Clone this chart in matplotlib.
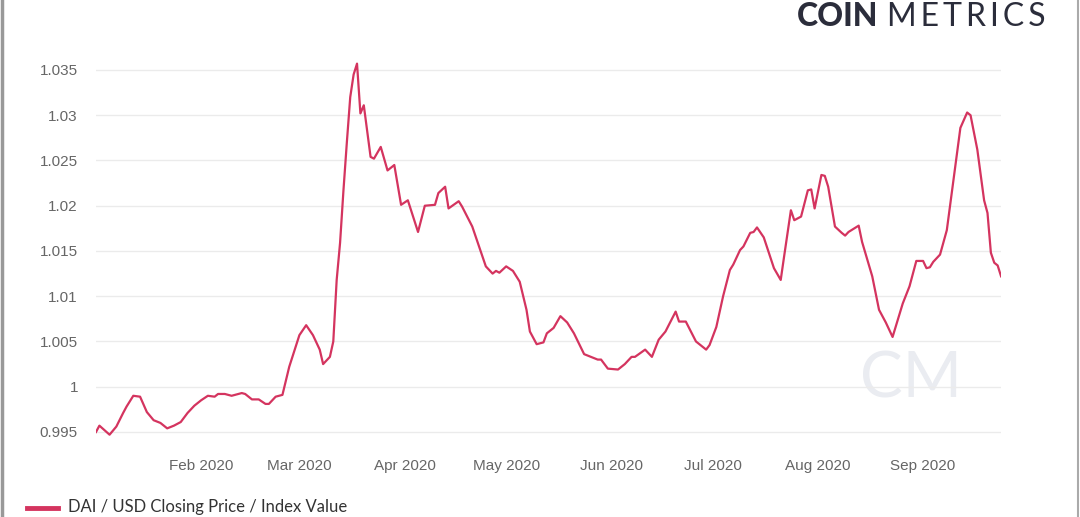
import pandas as pd
import matplotlib.pyplot as plt
import matplotlib.dates as mdates
from matplotlib.lines import Line2D

# DAI / USD closing price
dates = [
    "2020-01-01", "2020-01-02", "2020-01-05", "2020-01-07", "2020-01-09", "2020-01-10",
    "2020-01-12", "2020-01-14", "2020-01-16", "2020-01-18", "2020-01-20", "2020-01-22",
    "2020-01-24", "2020-01-26", "2020-01-28", "2020-01-30", "2020-02-01", "2020-02-03",
    "2020-02-05", "2020-02-06", "2020-02-08", "2020-02-10", "2020-02-11", "2020-02-13",
    "2020-02-14", "2020-02-16", "2020-02-18", "2020-02-20", "2020-02-21", "2020-02-23",
    "2020-02-25", "2020-02-27", "2020-03-01", "2020-03-03", "2020-03-05", "2020-03-07",
    "2020-03-08", "2020-03-10", "2020-03-11", "2020-03-12", "2020-03-13", "2020-03-14",
    "2020-03-15", "2020-03-16", "2020-03-17", "2020-03-18", "2020-03-19", "2020-03-20",
    "2020-03-22", "2020-03-23", "2020-03-25", "2020-03-27", "2020-03-29", "2020-03-31",
    "2020-04-02", "2020-04-05", "2020-04-07", "2020-04-10", "2020-04-11", "2020-04-13",
    "2020-04-14", "2020-04-17", "2020-04-18", "2020-04-21", "2020-04-25", "2020-04-27",
    "2020-04-28", "2020-04-29", "2020-05-01", "2020-05-03", "2020-05-05", "2020-05-07",
    "2020-05-08", "2020-05-10", "2020-05-12", "2020-05-13", "2020-05-15", "2020-05-17",
    "2020-05-19", "2020-05-21", "2020-05-24", "2020-05-28", "2020-05-29", "2020-05-31",
    "2020-06-03", "2020-06-05", "2020-06-07", "2020-06-08", "2020-06-11", "2020-06-13",
    "2020-06-15", "2020-06-17", "2020-06-20", "2020-06-21", "2020-06-23", "2020-06-26",
    "2020-06-29", "2020-06-30", "2020-07-02", "2020-07-04", "2020-07-06", "2020-07-07",
    "2020-07-09", "2020-07-10", "2020-07-12", "2020-07-13", "2020-07-14", "2020-07-16",
    "2020-07-19", "2020-07-21", "2020-07-22", "2020-07-24", "2020-07-25", "2020-07-27",
    "2020-07-29", "2020-07-30", "2020-07-31", "2020-08-02", "2020-08-03", "2020-08-04",
    "2020-08-06", "2020-08-08", "2020-08-09", "2020-08-10", "2020-08-13", "2020-08-14",
    "2020-08-17", "2020-08-19", "2020-08-21", "2020-08-23", "2020-08-26", "2020-08-28",
    "2020-08-30", "2020-09-01", "2020-09-02", "2020-09-03", "2020-09-04", "2020-09-06",
    "2020-09-08", "2020-09-11", "2020-09-12", "2020-09-14", "2020-09-15", "2020-09-17",
    "2020-09-19", "2020-09-20", "2020-09-21", "2020-09-22", "2020-09-23", "2020-09-24",
]
price = [
    0.9950, 0.9957, 0.9947, 0.9956, 0.9971, 0.9978,
    0.9990, 0.9989, 0.9972, 0.9963, 0.9960, 0.9954,
    0.9957, 0.9961, 0.9971, 0.9979, 0.9985, 0.9990,
    0.9989, 0.9992, 0.9992, 0.9990, 0.9991, 0.9993,
    0.9992, 0.9986, 0.9986, 0.9981, 0.9981, 0.9989,
    0.9991, 1.0022, 1.0057, 1.0068, 1.0057, 1.0041,
    1.0025, 1.0033, 1.0050, 1.0118, 1.0159, 1.0217,
    1.0270, 1.0320, 1.0345, 1.0357, 1.0302, 1.0311,
    1.0254, 1.0252, 1.0265, 1.0239, 1.0245, 1.0201,
    1.0206, 1.0171, 1.0200, 1.0201, 1.0214, 1.0221,
    1.0197, 1.0205, 1.0199, 1.0177, 1.0133, 1.0125,
    1.0128, 1.0126, 1.0133, 1.0128, 1.0116, 1.0085,
    1.0061, 1.0047, 1.0049, 1.0059, 1.0065, 1.0078,
    1.0071, 1.0059, 1.0036, 1.0030, 1.0030, 1.0020,
    1.0019, 1.0025, 1.0033, 1.0033, 1.0041, 1.0033,
    1.0052, 1.0061, 1.0083, 1.0072, 1.0072, 1.0050,
    1.0041, 1.0046, 1.0066, 1.0100, 1.0129, 1.0135,
    1.0151, 1.0155, 1.0170, 1.0171, 1.0176, 1.0165,
    1.0131, 1.0118, 1.0144, 1.0195, 1.0184, 1.0188,
    1.0217, 1.0218, 1.0197, 1.0234, 1.0233, 1.0221,
    1.0177, 1.0170, 1.0167, 1.0171, 1.0178, 1.0160,
    1.0122, 1.0085, 1.0071, 1.0055, 1.0092, 1.0111,
    1.0139, 1.0139, 1.0131, 1.0132, 1.0138, 1.0146,
    1.0173, 1.0258, 1.0286, 1.0303, 1.0300, 1.0262,
    1.0206, 1.0192, 1.0148, 1.0137, 1.0134, 1.0122,
]
y_ticks = [0.995, 1, 1.005, 1.01, 1.015, 1.02, 1.025, 1.03, 1.035]
y_tick_labels = ["0.995", "1", "1.005", "1.01", "1.015", "1.02", "1.025", "1.03", "1.035"]
series_name = "DAI / USD Closing Price / Index Value"

LINE = "#d4345f"
GREY = "#666666"
NAVY = "#2b2d3b"

x = pd.to_datetime(dates)

fig = plt.figure(figsize=(10.8, 5.17), dpi=100)
ax = fig.add_axes([0.0889, 0.1557, 0.838, 0.7352])

# watermark behind the line
ax.text(0.9, 0.15, "CM", transform=ax.transAxes, ha="center", va="center",
        fontsize=46, color="#eaecf1", family="Lato", fontweight="normal", zorder=0)

ax.plot(x, price, color=LINE, linewidth=1.6, zorder=3)

ax.set_xlim(x[0], x[-1])
ax.set_ylim(0.9945, 1.0365)
ax.set_yticks(y_ticks)
ax.set_yticklabels(y_tick_labels)
ax.grid(axis="y", color="#ebebeb", linewidth=1)
ax.set_axisbelow(True)

ax.xaxis.set_major_locator(mdates.MonthLocator(bymonth=range(2, 10)))
ax.xaxis.set_major_formatter(mdates.DateFormatter("%b %Y"))

for side in ["top", "right", "left", "bottom"]:
    ax.spines[side].set_visible(False)
ax.tick_params(axis="both", length=0, labelsize=11, labelcolor=GREY)
ax.tick_params(axis="y", pad=13)
ax.tick_params(axis="x", pad=16)
for lbl in ax.get_xticklabels() + ax.get_yticklabels():
    lbl.set_family("Liberation Sans")

# legend at the bottom
fig.add_artist(Line2D([0.025, 0.054], [0.018, 0.018], color=LINE, linewidth=3.5))
fig.text(0.063, 0.004, series_name, fontsize=12, color="#333333", family="Lato",
         va="bottom", ha="left")

# logo at the top right
fig.text(0.7375, 0.996, "COIN", fontsize=23, color=NAVY, family="Lato",
         fontweight="black", ha="left", va="top")
fig.text(0.8215, 0.996, "M\u2009E\u2009T\u2009R\u2009I\u2009C\u2009S", fontsize=23,
         color=NAVY, family=["Lato", "DejaVu Sans"], fontweight="normal",
         ha="left", va="top")

# grey frame edges from the screenshot
fig.add_artist(Line2D([0.0015, 0.0015], [0, 1], color="#999999", linewidth=2.5))
fig.add_artist(Line2D([0.998, 0.998], [0, 1], color="#aaaaaa", linewidth=1.5))

fig.savefig("out.png", dpi=100)
